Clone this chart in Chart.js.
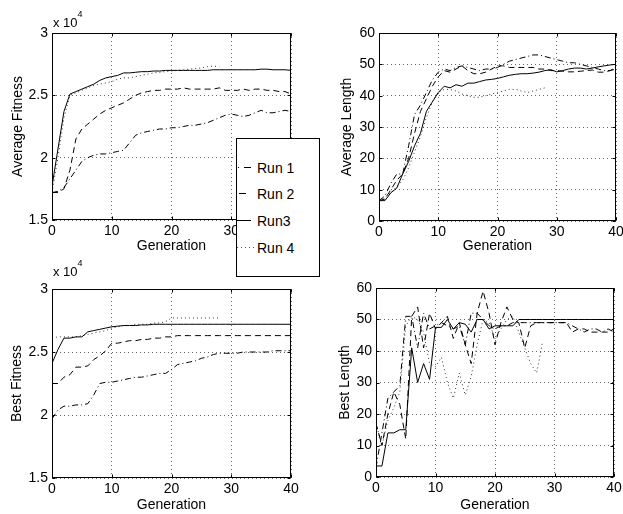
<!DOCTYPE html>
<html><head><meta charset="utf-8">
<script src="https://cdn.jsdelivr.net/npm/chart.js@4.4.1/dist/chart.umd.min.js"></script>
<style>
html,body{margin:0;padding:0;width:623px;height:514px;overflow:hidden;background:#fff;}
canvas{position:absolute;}
.exp{position:absolute;font:13px "Liberation Sans",Arial,sans-serif;line-height:13px;color:#000;white-space:nowrap;}
.exp span{position:relative;font-size:9px;top:-10px;}
#legend{position:absolute;left:236px;top:138px;width:84px;height:139px;box-sizing:border-box;border:1px solid #000;background:#fff;}
#legend svg{position:absolute;left:0;top:0;}
#legend text{font:14px "Liberation Sans",Arial,sans-serif;fill:#000;}
</style></head>
<body>
<canvas id="c1"></canvas>
<canvas id="c2"></canvas>
<canvas id="c3"></canvas>
<canvas id="c4"></canvas>
<div class="exp" style="left:53px;top:16px;">x 10<span>4</span></div>
<div class="exp" style="left:53px;top:265px;">x 10<span>4</span></div>
<div id="legend">
<svg width="82" height="137">
  <line x1="1" y1="28.5" x2="14" y2="28.5" stroke="#000" stroke-width="1" stroke-dasharray="1,5,7,100"/>
  <line x1="2" y1="54.5" x2="9" y2="54.5" stroke="#000" stroke-width="1"/>
  <line x1="0" y1="81.5" x2="14" y2="81.5" stroke="#000" stroke-width="1"/>
  <line x1="0" y1="108.5" x2="19" y2="108.5" stroke="#555" stroke-width="1" stroke-dasharray="1,3"/>
  <text x="20" y="28.5" dominant-baseline="central">Run 1</text>
  <text x="20" y="54.5" dominant-baseline="central">Run 2</text>
  <text x="20" y="81.5" dominant-baseline="central">Run3</text>
  <text x="20" y="108.5" dominant-baseline="central">Run 4</text>
</svg>
</div>
<script>
// ---------- data ----------
const generations = [0,1,2,3,4,5,6,7,8,9,10,11,12,13,14,15,16,17,18,19,20,21,22,23,24,25,26,27,28,29,30,31,32,33,34,35,36,37,38,39,40];
const seriesNames = ['Run 1','Run 2','Run3','Run 4'];
const fitnessTicks = [15000,20000,25000,30000];
const fitnessTickLabels = ['1.5','2','2.5','3'];
const lengthTicks = [0,10,20,30,40,50,60];
const generationTicks = [0,10,20,30,40];

const avgFitnessRun1 = [17200,17300,17600,18300,19000,19700,20000,20200,20300,20300,20400,20500,20600,21200,21800,22000,22100,22200,22300,22300,22400,22400,22500,22600,22600,22700,22800,23000,23200,23400,23500,23400,23300,23400,23600,23800,23600,23600,23700,23800,23700];
const avgFitnessRun2 = [17200,17200,17500,19000,21500,22300,22700,23100,23500,23800,24000,24200,24400,24700,25000,25200,25300,25400,25400,25500,25500,25500,25600,25500,25500,25500,25500,25500,25600,25400,25400,25400,25500,25400,25500,25500,25400,25400,25300,25300,25100];
const avgFitnessRun3 = [17700,20700,23700,25100,25300,25500,25700,25900,26200,26400,26500,26600,26800,26800,26850,26900,26900,26950,26950,27000,27000,27000,27000,27000,27000,27000,27000,27050,27050,27050,27050,27050,27050,27050,27050,27100,27100,27050,27050,27050,27000];
const avgFitnessRun4 = [17200,20000,23200,25000,25200,25400,25600,25800,25900,26000,26100,26300,26400,26400,26500,26600,26700,26800,26850,26900,26950,27000,27050,27100,27150,27200,27300,27350,27300];

const avgLengthRun1 = [6.5,8,12,15,15,24,34,37,41,45,47.5,48.5,48,49,49.5,49,48.5,48,48.5,48.5,49,50,51,51.5,52,52.5,53,53,52.5,52,51.5,51,50.5,50.5,50,49.5,49,48.5,48,48,48.5];
const avgLengthRun2 = [6.5,7,10,13,15,20,28,35,39,43,46,48,47.5,48.5,49.5,48,47,47,47.5,48.5,49.5,49.5,49,49,49,49,49,48.5,48.5,48,48,47.8,47.6,47.6,47.8,48,48.2,47.5,47.5,48,49];
const avgLengthRun3 = [6.5,6.5,9,10.5,15,19,24,28,35,38,41,43,42.5,43.5,43,44,44,44.5,45,45.2,45.5,46,46.5,46.8,47,47,47.2,47.5,48,48.3,47.6,48,48.5,48.8,48.8,48.5,48.8,49.2,49.5,49.8,50];
const avgLengthRun4 = [6.5,7.5,9,11,13,17,22,27,33,38,41,42,42,41.5,40.5,40,39.5,39.5,40,40.5,41,41.5,42,42,41.5,41,41.5,42,42.5];

const bestFitnessRun1 = [19700,20400,20700,20700,20800,20800,20900,21600,22500,22600,22600,22700,22800,22900,23000,23000,23100,23200,23300,23300,23600,24000,24100,24200,24300,24500,24600,24800,24900,24900,24900,24900,25000,25000,25000,25000,25000,25100,25100,25100,25100];
const bestFitnessRun2 = [22500,22500,23000,23200,23800,23800,23900,24400,24700,25100,25700,25700,25800,25900,25900,26000,26000,26100,26100,26200,26200,26300,26300,26300,26300,26300,26300,26300,26300,26300,26300,26300,26300,26300,26300,26300,26300,26300,26300,26300,26300];
const bestFitnessRun3 = [24100,25200,26100,26100,26200,26200,26600,26700,26800,26900,27000,27050,27100,27100,27100,27150,27150,27200,27200,27200,27200,27200,27200,27200,27200,27200,27200,27200,27200,27200,27200,27200,27200,27200,27200,27200,27200,27200,27200,27200,27200];
const bestFitnessRun4 = [26100,26200,26200,26200,26200,26300,26400,26500,26600,26700,26900,27000,27100,27100,27200,27200,27200,27300,27300,27400,27700,27700,27700,27700,27700,27700,27700,27700,27700];

const bestLengthRun1 = [3,14,25,27,29,51,51,41,52,47,48,49,48,47,48,42,52,52,50,48,47,48,48,49,49,49,49,49,49,49,49,49,49,48,47,46,47,47,46,47,46];
const bestLengthRun2 = [17,10,20,27,23,12,51,54,41,52,47,49,51,44,49,42,36,52,59,52,42,49,54,50,49,41,48,49,49,49,49,49,49,46,47,47,46,46,46,46,47];
const bestLengthRun3 = [3.5,3.5,14,14,15,15,41,30,36,31,47.5,47.5,50,47,49,48.5,46,50,50,47,48,48,48,48,50,50,50,50,50,50,50,50,50,50,50,50,50,50,50,50,50];
const bestLengthRun4 = [17,10,18,22,27,48,51,50,46,36,35,38,30,25,33,26,32,42,50,49,44,47,50,51,46,41,36,33,43];

// ---------- styles ----------
const FONT = '"Liberation Sans", Arial, sans-serif';
Chart.defaults.font.family = FONT;
Chart.defaults.color = '#000';
const lineStyles = [
  {borderDash:[6,3,1,3], borderColor:'#000'},
  {borderDash:[6,4], borderColor:'#000'},
  {borderDash:[], borderColor:'#000'},
  {borderDash:[1,3], borderColor:'#333'}
];

const boxPlugin = {
  id:'box',
  afterDatasetsDraw(chart){
    const {ctx, chartArea:{left,right,top,bottom}} = chart;
    const x = chart.scales.x, y = chart.scales.y;
    ctx.save();
    ctx.strokeStyle = '#000'; ctx.lineWidth = 1; ctx.setLineDash([]);
    const L = Math.round(left)+0.5, R = Math.round(right)-0.5, T = Math.round(top)+0.5, B = Math.round(bottom)-0.5;
    ctx.strokeRect(L, T, R-L, B-T);
    ctx.beginPath();
    const tl = 3;
    x.ticks.forEach(t => { const p = Math.round(x.getPixelForValue(t.value))+0.5; ctx.moveTo(p,B); ctx.lineTo(p,B-tl); ctx.moveTo(p,T); ctx.lineTo(p,T+tl); });
    y.ticks.forEach(t => { const p = Math.round(y.getPixelForValue(t.value))+0.5; ctx.moveTo(L,p); ctx.lineTo(L+tl,p); ctx.moveTo(R,p); ctx.lineTo(R-tl,p); });
    ctx.stroke();
    ctx.restore();
  }
};

function makeChart(id, pos, runs, yCfg, yTitle) {
  const cv = document.getElementById(id);
  cv.style.left = pos.left + 'px'; cv.style.top = pos.top + 'px';
  cv.width = pos.w; cv.height = pos.h;
  cv.style.width = pos.w + 'px'; cv.style.height = pos.h + 'px';
  const datasets = runs.map((run, k) => ({
    label: seriesNames[k],
    data: run.map((v, i) => ({x: generations[i], y: v})),
    borderColor: lineStyles[k].borderColor,
    borderDash: lineStyles[k].borderDash,
    borderWidth: 1,
    pointRadius: 0,
    tension: 0,
    fill: false
  }));
  return new Chart(cv, {
    type: 'line',
    data: {datasets},
    plugins: [boxPlugin],
    options: {
      responsive: false, animation: false, devicePixelRatio: 1,
      layout: {padding: {left: 0, top: pos.padTop, right: pos.padRight, bottom: 0}},
      plugins: {legend: {display: false}, tooltip: {enabled: false}},
      scales: {
        x: {
          type: 'linear', min: 0, max: 40,
          afterBuildTicks: s => { s.ticks = generationTicks.map(v => ({value: v})); },
          ticks: {font: {size: 14}, color: '#000', padding: 3, maxRotation: 0, autoSkip: false},
          grid: {color: '#666', lineWidth: 1, drawTicks: false},
          border: {display: false, dash: [1,3]},
          title: {display: true, text: 'Generation', font: {size: 14}, color: '#000', padding: {top: 0, bottom: pos.xTitlePad}},
          afterFit: s => { s.height = pos.xH; s.paddingLeft = 0; s.paddingRight = 0; }
        },
        y: {
          type: 'linear', min: yCfg.min, max: yCfg.max,
          afterBuildTicks: s => { s.ticks = yCfg.ticks.map(v => ({value: v})); },
          ticks: {font: {size: 14}, color: '#000', padding: 4, autoSkip: false,
                  callback: (v) => { const i = yCfg.ticks.indexOf(v); return yCfg.labels ? yCfg.labels[i] : String(v); }},
          grid: {color: '#666', lineWidth: 1, drawTicks: false},
          border: {display: false, dash: [1,3]},
          title: {display: true, text: yTitle, font: {size: 14}, color: '#000', padding: {top: pos.yTitlePad, bottom: 0}},
          afterFit: s => { s.width = pos.yW; s.paddingTop = 0; s.paddingBottom = 0; }
        }
      }
    }
  });
}

const fitCfg = {min: 15000, max: 30000, ticks: fitnessTicks, labels: fitnessTickLabels};
const lenCfg = {min: 0, max: 60, ticks: lengthTicks};

makeChart('c1', {left:0, top:0, w:310, h:262, padTop:33, padRight:19, yW:52, xH:42, xTitlePad:7.6, yTitlePad:9.6},
  [avgFitnessRun1, avgFitnessRun2, avgFitnessRun3, avgFitnessRun4], fitCfg, 'Average Fitness');
makeChart('c2', {left:310, top:0, w:333, h:262, padTop:33, padRight:27, yW:69, xH:41, xTitlePad:7.6, yTitlePad:28.6},
  [avgLengthRun1, avgLengthRun2, avgLengthRun3, avgLengthRun4], lenCfg, 'Average Length');
makeChart('c3', {left:0, top:262, w:310, h:252, padTop:27, padRight:19, yW:52, xH:36, xTitlePad:0.6, yTitlePad:8.6},
  [bestFitnessRun1, bestFitnessRun2, bestFitnessRun3, bestFitnessRun4], fitCfg, 'Best Fitness');
makeChart('c4', {left:310, top:262, w:333, h:252, padTop:26, padRight:29, yW:66, xH:37, xTitlePad:0.6, yTitlePad:26.6},
  [bestLengthRun1, bestLengthRun2, bestLengthRun3, bestLengthRun4], lenCfg, 'Best Length');
</script>
</body></html>
